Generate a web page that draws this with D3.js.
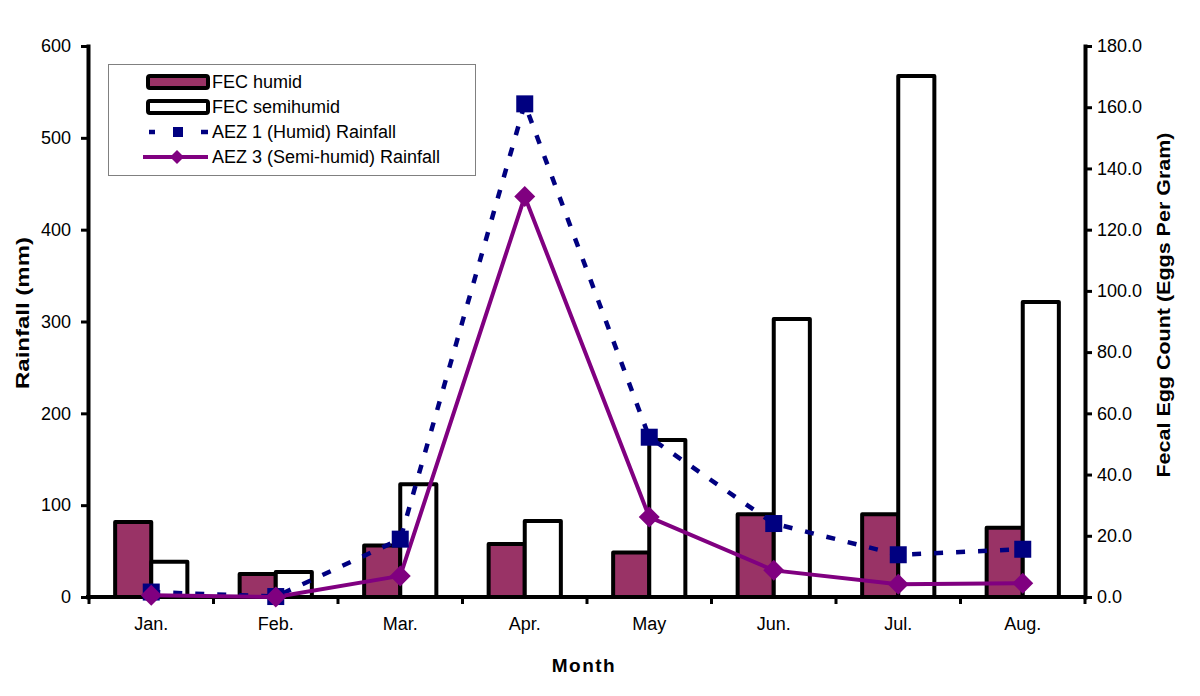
<!DOCTYPE html>
<html>
<head>
<meta charset="utf-8">
<script src="https://cdn.jsdelivr.net/npm/d3@7"></script>
<style>
  html, body { margin: 0; padding: 0; background: #fff; }
  svg { display: block; font-family: "Liberation Sans", Arial, sans-serif; }
</style>
</head>
<body>
<svg id="chart" width="1200" height="696"></svg>
<script>
// ---- data ----
const months = ["Jan.", "Feb.", "Mar.", "Apr.", "May", "Jun.", "Jul.", "Aug."];
const fecHumid = [24.5, 7.5, 16.8, 17.3, 14.5, 27.0, 27.0, 22.6];
const fecSemihumid = [11.5, 8.2, 36.8, 24.8, 51.3, 90.8, 170.2, 96.4];
const rainAEZ1 = [5.4, 0.5, 63, 537, 174, 80, 46, 52];
const rainAEZ3 = [2, 0, 23, 436, 87, 29, 14, 15];
const leftTicks = [0, 100, 200, 300, 400, 500, 600];
const rightTicks = [0, 20, 40, 60, 80, 100, 120, 140, 160, 180];
const seriesNames = ["FEC humid", "FEC semihumid", "AEZ 1 (Humid) Rainfall", "AEZ 3 (Semi-humid) Rainfall"];

(function () {
const svg = d3.select("#chart");
const pL = 89, pR = 1085, pT = 46, pB = 597;

const x = d3.scaleBand().domain(months).range([pL, pR]).padding(0);
const yL = d3.scaleLinear().domain([0, 600]).range([pB, pT]);
const yR = d3.scaleLinear().domain([0, 180]).range([pB, pT]);
const bw = x.bandwidth() * 0.29;
const cx = d => x(d) + x.bandwidth() / 2;

const humidFill = "#993366", navy = "#000080", purple = "#800080";

// ---- bars ----
const gBars = svg.append("g");
gBars.selectAll("rect.h").data(months).join("rect").attr("class", "h")
  .attr("x", d => cx(d) - bw).attr("width", bw)
  .attr("y", (d, i) => yR(fecHumid[i])).attr("height", (d, i) => pB - yR(fecHumid[i]))
  .attr("fill", humidFill).attr("stroke", "#000").attr("stroke-width", 4)
  .attr("stroke-linejoin", "round");
gBars.selectAll("rect.s").data(months).join("rect").attr("class", "s")
  .attr("x", d => cx(d)).attr("width", bw)
  .attr("y", (d, i) => yR(fecSemihumid[i])).attr("height", (d, i) => pB - yR(fecSemihumid[i]))
  .attr("fill", "#fff").attr("stroke", "#000").attr("stroke-width", 4)
  .attr("stroke-linejoin", "round");

// ---- axes ----
const axisL = svg.append("g").attr("transform", `translate(${pL - 1},0)`)
  .call(d3.axisLeft(yL).tickValues(leftTicks).tickSize(7).tickSizeOuter(0).tickPadding(10).tickFormat(d3.format("d")));
const axisR = svg.append("g").attr("transform", `translate(${pR},0)`)
  .call(d3.axisRight(yR).tickValues(rightTicks).tickSize(7).tickSizeOuter(0).tickPadding(5).tickFormat(d3.format(".1f")));
const axisB = svg.append("g").attr("transform", `translate(0,${pB})`)
  .call(d3.axisBottom(x).tickSize(0).tickSizeOuter(0).tickPadding(20));
[axisL, axisR, axisB].forEach(a => {
  a.attr("font-size", 18).attr("font-family", "Liberation Sans, Arial, sans-serif");
  a.select(".domain").attr("stroke", "#000").attr("stroke-width", 4).attr("stroke-linecap", "square");
  a.selectAll(".tick line").attr("stroke", "#000").attr("stroke-width", 3);
  a.selectAll("text").attr("fill", "#000").style("font-size", "18px");
});
axisB.select(".domain").attr("d", `M${pL - 1},0H${pR}`);
// category boundary ticks on x axis
const bounds = months.map(m => x(m)).concat([pR]);
svg.append("g").selectAll("line").data(bounds).join("line")
  .attr("x1", d => d).attr("x2", d => d).attr("y1", pB).attr("y2", pB + 7)
  .attr("stroke", "#000").attr("stroke-width", 3);

// ---- lines ----
const lineL = d3.line().x((d, i) => cx(months[i])).y(d => yL(d));
svg.append("path").datum(rainAEZ1).attr("d", lineL)
  .attr("fill", "none").attr("stroke", navy).attr("stroke-width", 4.5).attr("stroke-dasharray", "9,13");
svg.append("path").datum(rainAEZ3).attr("d", lineL)
  .attr("fill", "none").attr("stroke", purple).attr("stroke-width", 4).attr("stroke-linejoin", "round");

const sq = 17;
svg.append("g").selectAll("rect").data(rainAEZ1).join("rect")
  .attr("x", (d, i) => cx(months[i]) - sq / 2).attr("y", d => yL(d) - sq / 2)
  .attr("width", sq).attr("height", sq).attr("fill", navy);
const dia = 10.5;
svg.append("g").selectAll("path").data(rainAEZ3).join("path")
  .attr("transform", (d, i) => `translate(${cx(months[i])},${yL(d)})`)
  .attr("d", `M0,${-dia}L${dia},0L0,${dia}L${-dia},0Z`).attr("fill", purple);

// ---- axis titles ----
svg.append("text").attr("transform", "translate(29,313) rotate(-90)")
  .attr("text-anchor", "middle").attr("font-weight", "bold").attr("font-size", 19)
  .attr("textLength", 152).attr("lengthAdjust", "spacingAndGlyphs")
  .text("Rainfall (mm)");
svg.append("text").attr("transform", "translate(1170,305) rotate(-90)")
  .attr("text-anchor", "middle").attr("font-weight", "bold").attr("font-size", 19)
  .attr("textLength", 345).attr("lengthAdjust", "spacingAndGlyphs")
  .text("Fecal Egg Count (Eggs Per Gram)");
svg.append("text").attr("x", 584).attr("y", 672)
  .attr("text-anchor", "middle").attr("font-weight", "bold").attr("font-size", 19)
  .attr("letter-spacing", 1.5)
  .text("Month");

// ---- legend ----
const lg = svg.append("g");
lg.append("rect").attr("x", 108.5).attr("y", 64.5).attr("width", 367).attr("height", 111)
  .attr("fill", "#fff").attr("stroke", "#808080").attr("stroke-width", 1);
const rowY = [82, 107, 132, 157];
const symX0 = 148, symX1 = 208, textX = 212;
lg.append("rect").attr("x", symX0).attr("y", rowY[0] - 6).attr("width", symX1 - symX0).attr("height", 12)
  .attr("rx", 2).attr("fill", humidFill).attr("stroke", "#000").attr("stroke-width", 4);
lg.append("rect").attr("x", symX0).attr("y", rowY[1] - 6).attr("width", symX1 - symX0).attr("height", 12)
  .attr("rx", 2).attr("fill", "#fff").attr("stroke", "#000").attr("stroke-width", 4);
lg.append("line").attr("x1", symX0 + 1).attr("x2", symX0 + 7).attr("y1", rowY[2]).attr("y2", rowY[2])
  .attr("stroke", navy).attr("stroke-width", 4.5);
lg.append("line").attr("x1", symX1 - 7).attr("x2", symX1).attr("y1", rowY[2]).attr("y2", rowY[2])
  .attr("stroke", navy).attr("stroke-width", 4.5);
lg.append("rect").attr("x", (symX0 + symX1) / 2 - 5).attr("y", rowY[2] - 5).attr("width", 10).attr("height", 10).attr("fill", navy);
lg.append("line").attr("x1", symX0 - 5).attr("x2", symX1).attr("y1", rowY[3]).attr("y2", rowY[3])
  .attr("stroke", purple).attr("stroke-width", 4);
lg.append("path").attr("transform", `translate(${(symX0 + symX1) / 2 - 1},${rowY[3]})`)
  .attr("d", "M0,-7L7,0L0,7L-7,0Z").attr("fill", purple);
lg.selectAll("text").data(seriesNames).join("text")
  .attr("x", textX).attr("y", (d, i) => rowY[i] + 6)
  .attr("font-size", 18).attr("fill", "#000").text(d => d);
})();
</script>
</body>
</html>
